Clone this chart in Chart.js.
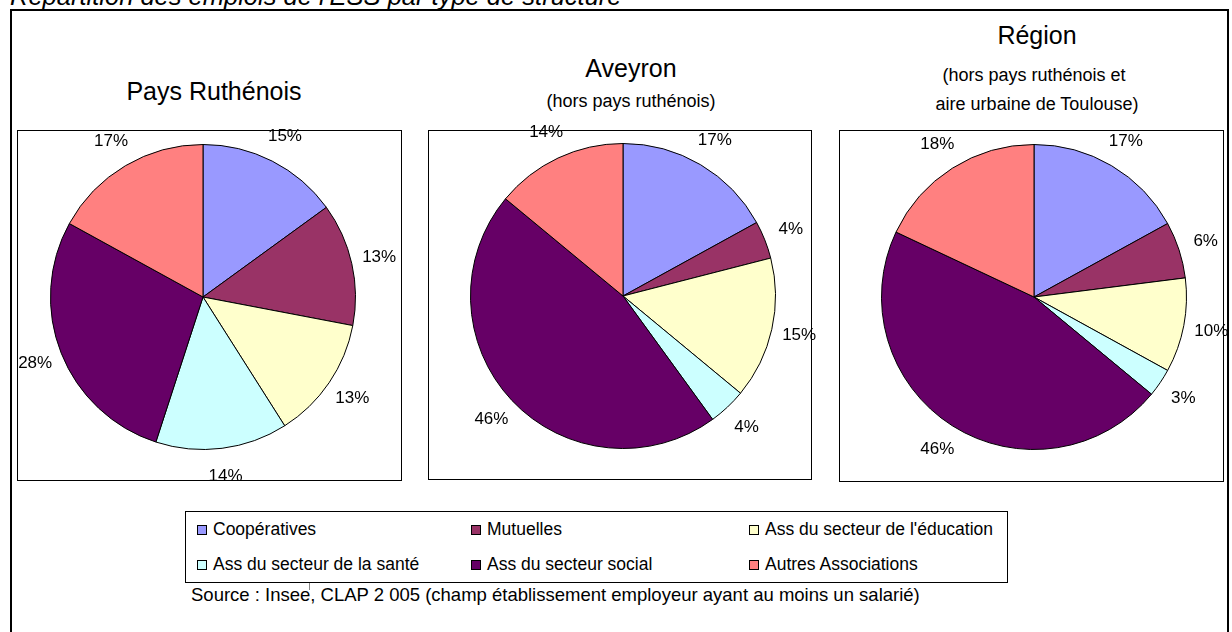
<!DOCTYPE html>
<html>
<head>
<meta charset="utf-8">
<script src="https://cdn.jsdelivr.net/npm/chart.js@4.4.0/dist/chart.umd.min.js"></script>
<style>
  body { margin: 0; width: 1232px; height: 632px; overflow: hidden; background: #fff; position: relative;
         font-family: "Liberation Sans", Arial, sans-serif; color: #000; }
  .abs { position: absolute; }
  .box { position: absolute; border: 1px solid #000; box-sizing: border-box; }
  .t { position: absolute; width: 400px; text-align: center; white-space: nowrap; }
  .big { font-size: 25px; line-height: 25px; }
  .sub { font-size: 18px; line-height: 18px; }
  canvas { position: absolute; }
  .leg-item { position: absolute; font-size: 17.5px; line-height: 18px; white-space: nowrap; }
  .sw { position: absolute; width: 10px; height: 10px; border: 1px solid #000; box-sizing: border-box; }
</style>
</head>
<body>

<div class="abs" style="left:10px; top:-16px; font-size:25.5px; line-height:25px; font-style:italic; white-space:nowrap;">Répartition des emplois de l'ESS par type de structure</div>
<div class="box" style="left:10px; top:9px; width:1219px; height:660px; border-width:2px;"></div>

<div class="box" style="left:17px; top:130px; width:385px; height:351px;"></div>
<div class="box" style="left:428px; top:130px; width:384px; height:350px;"></div>
<div class="box" style="left:839px; top:130px; width:385px; height:352px;"></div>

<div class="t big" style="left:14px; top:79px;">Pays Ruthénois</div>
<div class="t big" style="left:431px; top:56px;">Aveyron</div>
<div class="t sub" style="left:431px; top:92px;">(hors pays ruthénois)</div>
<div class="t big" style="left:837px; top:23px;">Région</div>
<div class="t sub" style="left:834px; top:66px;">(hors pays ruthénois et</div>
<div class="t sub" style="left:837px; top:95px;">aire urbaine de Toulouse)</div>

<canvas id="pie1" width="406" height="406" style="left:0px; top:94px;"></canvas>
<canvas id="pie2" width="406" height="406" style="left:420px; top:93px;"></canvas>
<canvas id="pie3" width="406" height="406" style="left:831px; top:94px;"></canvas>

<div class="box" style="left:185px; top:511px; width:823px; height:72px;"></div>
<div id="legend"></div>
<div class="abs" style="left:309px; top:583px; width:1px; height:7px; background:#888;"></div>

<div class="abs" style="left:191px; top:586px; font-size:18.5px; line-height:18px; white-space:nowrap;">Source : Insee, CLAP 2 005 (champ établissement employeur ayant au moins un salarié)</div>

<script>
// data
const categories = ['Coopératives', 'Mutuelles', "Ass du secteur de l'éducation",
    'Ass du secteur de la santé', 'Ass du secteur social', 'Autres Associations'];
const paysRuthenois = [15, 13, 13, 14, 28, 17];
const aveyron = [17, 4, 15, 4, 46, 14];
const region = [17, 6, 10, 3, 46, 18];
const colors = ['#9999FF', '#993366', '#FFFFCC', '#CCFFFF', '#660066', '#FF8080'];

// percent labels outside each slice
const pctLabels = {
    id: 'pctLabels',
    afterDatasetsDraw(chart) {
        const ctx = chart.ctx;
        const values = chart.data.datasets[0].data;
        ctx.save();
        ctx.font = '17px "Liberation Sans", Arial, sans-serif';
        ctx.fillStyle = '#000';
        ctx.textAlign = 'center';
        ctx.textBaseline = 'middle';
        chart.getDatasetMeta(0).data.forEach(function (arc, i) {
            const p = arc.getProps(['x', 'y', 'startAngle', 'endAngle', 'outerRadius'], true);
            const mid = (p.startAngle + p.endAngle) / 2;
            const d = p.outerRadius + 28;
            ctx.fillText(values[i] + '%', p.x + Math.cos(mid) * d, p.y + Math.sin(mid) * d);
        });
        ctx.restore();
    }
};

function makePie(id, values) {
    return new Chart(document.getElementById(id), {
        type: 'pie',
        data: {
            labels: categories,
            datasets: [{
                data: values,
                backgroundColor: colors,
                borderColor: '#000',
                borderWidth: 1
            }]
        },
        options: {
            responsive: false,
            animation: false,
            events: [],
            layout: { padding: 50 },
            plugins: {
                legend: { display: false },
                tooltip: { enabled: false }
            }
        },
        plugins: [pctLabels]
    });
}

makePie('pie1', paysRuthenois);
makePie('pie2', aveyron);
makePie('pie3', region);

// legend, 3 columns x 2 rows
const legend = document.getElementById('legend');
const colX = [197, 471, 749];
const rowY = [529, 564];
categories.forEach(function (name, i) {
    const x = colX[i % 3];
    const y = rowY[Math.floor(i / 3)];
    const sw = document.createElement('div');
    sw.className = 'sw';
    sw.style.left = x + 'px';
    sw.style.top = (y - 4) + 'px';
    sw.style.background = colors[i];
    legend.appendChild(sw);
    const txt = document.createElement('div');
    txt.className = 'leg-item';
    txt.style.left = (x + 16) + 'px';
    txt.style.top = (y - 9) + 'px';
    txt.textContent = name;
    legend.appendChild(txt);
});
</script>
</body>
</html>
